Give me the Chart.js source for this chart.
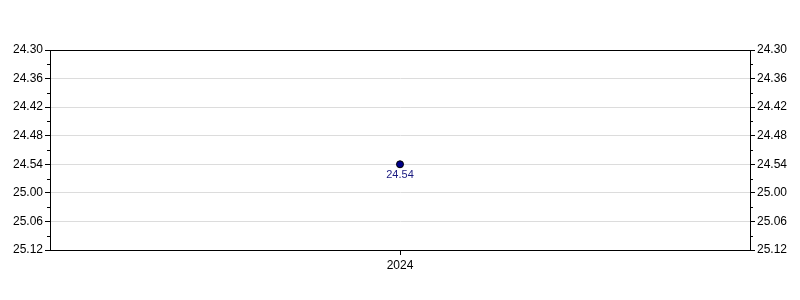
<!DOCTYPE html>
<html>
<head>
<meta charset="utf-8">
<script src="https://cdn.jsdelivr.net/npm/chart.js@4/dist/chart.umd.min.js"></script>
<style>
html,body{margin:0;padding:0;background:#fff;}
#wrap{width:800px;height:300px;}
</style>
</head>
<body>
<div id="wrap"><canvas id="c" width="800" height="300"></canvas></div>
<script>
// Data (times as minutes.seconds)
const categories = ['2024'];
const timeLabels = ['24.54'];
const yTickLabels = ['24.30','24.36','24.42','24.48','24.54','25.00','25.06','25.12'];

function toSec(s){ const p = s.split('.'); return parseInt(p[0],10)*60 + parseInt(p[1],10); }
function fmt(v){ const m = Math.floor(v/60), s = Math.round(v - m*60); return m + '.' + (s<10?'0':'') + s; }

const values = timeLabels.map(toSec);
const yMin = toSec(yTickLabels[0]);
const yMax = toSec(yTickLabels[yTickLabels.length-1]);
const yStep = toSec(yTickLabels[1]) - yMin;

const FONT = 'Liberation Sans, Arial, sans-serif';

const minorTicks = {
  id:'minorTicks',
  afterDraw(chart){
    const ctx = chart.ctx;
    ctx.save();
    ctx.strokeStyle = '#000';
    ctx.lineWidth = 1;
    ['y','y2'].forEach(id=>{
      const sc = chart.scales[id];
      for(let v = yMin + yStep/2; v < yMax; v += yStep){
        const py = Math.round(sc.getPixelForValue(v)) + 0.5;
        ctx.beginPath();
        if(id==='y'){ ctx.moveTo(sc.right-3, py); ctx.lineTo(sc.right, py); }
        else { ctx.moveTo(sc.left, py); ctx.lineTo(sc.left+3, py); }
        ctx.stroke();
      }
    });
    // frame
    const a = chart.chartArea;
    ctx.strokeStyle = '#000';
    ctx.strokeRect(Math.round(a.left)+0.5, Math.round(a.top)+0.5, Math.round(a.right-a.left), Math.round(a.bottom-a.top));
    // data labels
    const meta = chart.getDatasetMeta(0);
    ctx.fillStyle = '#1a1a80';
    ctx.font = '11px ' + FONT;
    ctx.textAlign = 'center';
    ctx.textBaseline = 'top';
    meta.data.forEach((pt,i)=>{
      ctx.fillText(fmt(chart.data.datasets[0].data[i]), pt.x, pt.y + 5);
    });
    ctx.restore();
  }
};

const yAxisCommon = {
  type:'linear',
  reverse:true,
  min:yMin, max:yMax,
  border:{display:true,color:'#000'},
  ticks:{
    stepSize:yStep,
    color:'#000',
    padding:2,
    font:{family:FONT,size:12},
    callback:(v)=>fmt(v)
  }
};

new Chart(document.getElementById('c'),{
  type:'line',
  data:{
    labels:categories,
    datasets:[{
      data:values,
      borderColor:'#000',
      backgroundColor:'#00008b',
      pointRadius:3.5,
      pointBorderWidth:1,
      pointBorderColor:'#000',
      pointBackgroundColor:'#00008b',
      showLine:false
    }]
  },
  plugins:[minorTicks],
  options:{
    responsive:false,
    animation:false,
    devicePixelRatio:1,
    layout:{padding:{top:50,left:0,right:0,bottom:0}},
    plugins:{legend:{display:false},tooltip:{enabled:false}},
    scales:{
      x:{
        type:'category',
        offset:true,
        border:{display:true,color:'#000'},
        grid:{display:true,drawOnChartArea:false,tickLength:5,color:'#000',offset:false},
        ticks:{color:'#000',font:{family:FONT,size:12},padding:3},
        afterFit(s){ s.height = 50; }
      },
      y:Object.assign({},yAxisCommon,{
        position:'left',
        grid:{color:'#dcdcdc',tickColor:'#000',tickLength:5},
        afterFit(s){ s.width = 50; }
      }),
      y2:Object.assign({},yAxisCommon,{
        position:'right',
        grid:{drawOnChartArea:false,tickColor:'#000',tickLength:5},
        afterFit(s){ s.width = 50; }
      })
    }
  }
});
</script>
</body>
</html>
